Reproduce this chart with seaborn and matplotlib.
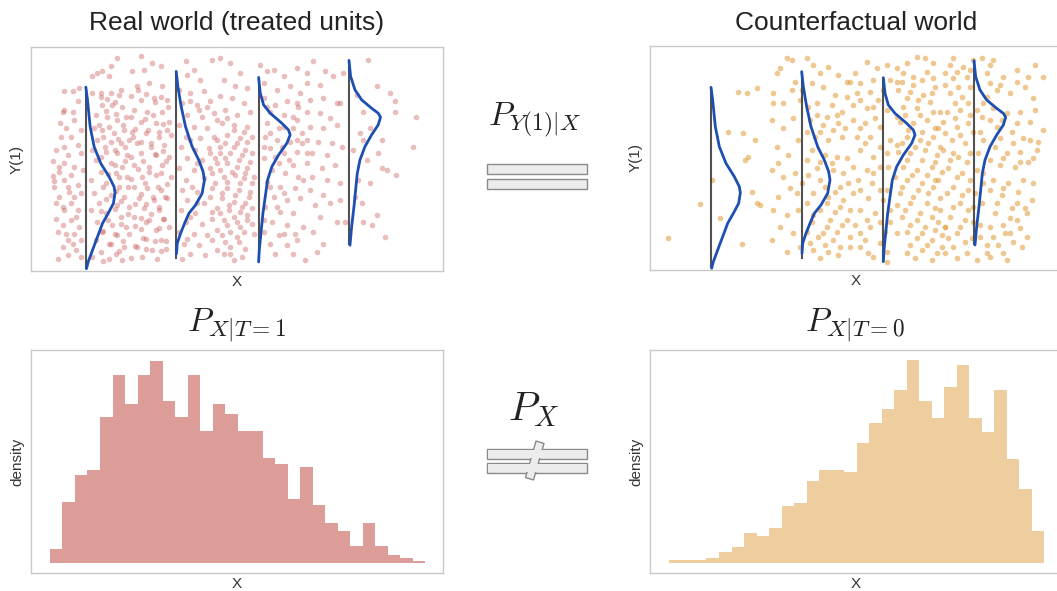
import matplotlib
matplotlib.use("Agg")
import matplotlib.pyplot as plt
import seaborn as sns
from matplotlib.patches import Rectangle, Polygon

sns.set_theme(style="white")
plt.rcParams['font.family'] = ['Liberation Sans', 'DejaVu Sans']
plt.rcParams['mathtext.fontset'] = 'cm'

# ---------------- data (units: arbitrary, axes carry no ticks) ----------------
bin_start = 57.0
bin_width = 37.67
n_bins = 30
hist_treated = [42, 183, 263, 280, 440, 565, 477, 565, 608, 486, 440, 565, 397, 477, 448,
                397, 397, 317, 298, 192, 289, 175, 121, 95, 50, 121, 50, 24, 15, 6]
hist_control = [8, 8, 8, 15, 32, 48, 90, 80, 105, 172, 180, 247, 280, 280, 272,
                362, 420, 462, 520, 610, 487, 437, 528, 595, 437, 395, 520, 313, 222, 97]

curve_dx = [
    [0, 5, 13, 25, 45, 70, 85, 88, 83, 67, 50, 35, 20, 7, 2],
    [0, 5, 15, 28, 48, 68, 81, 85, 78, 58, 38, 25, 13, 3, 1],
    [0, 5, 15, 35, 70, 90, 95, 85, 60, 40, 27, 20, 13, 7, 2, 0],
    [0, 5, 18, 38, 68, 88, 95, 88, 68, 48, 33, 25, 20, 15, 8, 3],
]
curve_y = [
    [142, 180, 260, 320, 370, 410, 440, 458, 490, 520, 550, 590, 630, 665, 685],
    [95, 140, 200, 260, 320, 360, 395, 420, 460, 495, 520, 550, 580, 610, 640],
    [113, 160, 195, 220, 250, 270, 285, 310, 345, 380, 420, 470, 520, 580, 630, 665],
    [62, 110, 150, 180, 205, 220, 232, 255, 285, 320, 360, 400, 450, 500, 560, 615],
]
line_top = [142, 95, 113, 62]
line_bottom = [685, 657, 665, 615]
line_x_treated = [165, 437, 685, 957]
line_x_control = [273, 545, 790, 1062]

treated_pts = [
    (100,155),(125,155),(140,185),(95,215),(125,215),(88,248),(105,265),(130,240),(150,270),(90,290),
    (120,290),(100,320),(140,315),(75,330),(110,345),(150,340),(65,362),(100,368),(130,380),(85,395),
    (120,405),(155,390),(65,408),(100,420),(140,435),(70,440),(115,455),(85,470),(150,460),(75,490),
    (120,490),(100,510),(140,510),(75,535),(120,540),(95,555),(145,560),(80,575),(130,580),(110,600),
    (150,600),(95,620),(135,630),(80,655),(110,645),(150,650),(100,210),(145,145),
    (185,110),(200,100),(215,95),(240,80),(260,55),(235,110),(185,160),(210,160),(240,160),(265,165),
    (215,195),(245,195),(275,200),(195,225),(230,230),(260,240),(285,230),(190,265),(215,270),(250,280),
    (280,270),(200,300),(240,305),(270,310),(295,300),(185,330),(225,335),(260,340),(290,345),(195,360),
    (240,370),(275,380),(210,395),(255,400),(290,410),(180,420),(225,430),(265,440),(190,460),(240,465),
    (280,470),(205,490),(260,495),(295,500),(180,510),(225,520),(270,530),(200,545),(245,555),(285,560),
    (215,575),(260,585),(195,600),(240,610),(280,620),(210,635),(255,640),(185,650),(235,655),(275,660),
    (330,50),(305,95),(340,90),(365,70),(390,80),(320,140),(355,130),(395,140),(330,180),(370,175),
    (410,180),(310,210),(350,215),(395,215),(330,245),(375,250),(415,245),(305,275),(345,280),(385,275),
    (420,285),(320,310),(360,310),(400,315),(330,340),(375,345),(415,350),(310,375),(355,380),(395,375),
    (335,410),(375,405),(420,410),(310,440),(350,445),(390,450),(325,475),(370,480),(410,475),(340,505),
    (385,510),(310,530),(355,540),(400,535),(330,565),(375,570),(415,560),(345,595),(390,600),(320,620),
    (365,630),(405,625),(380,655),(335,650),
    (210,172),(228,178),(252,186),(272,150),(302,170),(322,152),(346,162),(372,188),(392,172),(412,200),
    (226,212),(256,222),(302,232),(342,238),(366,226),(396,252),(206,256),(236,262),(276,256),(312,266),
    (352,270),(386,292),(410,270),(218,292),(262,296),(306,292),(332,306),(362,322),(396,332),(222,322),
    (252,330),(282,322),(302,352),(336,362),(372,342),(406,362),(212,352),(252,376),(282,362),(322,386),
    (356,396),(392,400),(232,402),(266,412),(302,416),(342,430),(382,440),(410,432),(216,442),(256,452),
    (292,442),(332,462),(366,470),(402,470),(226,476),(272,482),(312,492),(346,492),(386,502),(212,512),
    (252,506),(292,522),(332,532),(362,522),(396,536),(232,540),(272,552),(312,556),(346,546),(386,562),
    (216,572),(252,582),(296,582),(336,592),(372,602),(406,602),(236,612),(276,602),(312,616),(346,626),
    (392,632),(216,662),(266,632),(302,652),(85,380),(70,422),(110,442),(130,472),(95,500),(135,530),
    (105,582),(125,612),
    (465,65),(490,90),(470,105),(510,120),(445,150),(480,160),(520,155),(455,190),(500,195),(540,185),
    (470,225),(515,230),(550,220),(445,255),(490,260),(530,265),(465,290),(510,295),(550,290),(450,320),
    (495,330),(535,325),(470,355),(515,360),(555,355),(445,385),(490,390),(540,385),(465,420),(520,415),
    (455,450),(500,455),(545,445),(470,480),(520,490),(450,510),(495,520),(545,515),(465,545),(515,550),
    (445,575),(490,580),(530,585),(460,610),(505,615),(480,640),(525,645),(455,655),
    (545,60),(570,55),(600,70),(630,100),(580,120),(615,140),(650,145),(570,170),(605,175),(640,190),
    (585,210),(620,225),(660,215),(575,250),(610,255),(650,260),(590,285),(630,295),(665,290),(570,320),
    (610,320),(645,330),(585,355),(625,360),(660,365),(570,390),(605,395),(645,400),(590,425),(630,430),
    (665,430),(575,460),(615,465),(655,470),(595,495),(635,500),(570,520),(610,530),(650,525),(590,555),
    (630,560),(665,550),(575,585),(620,590),(600,620),(645,625),(610,660),(580,640),
    (480,185),(505,210),(530,200),(560,240),(590,235),(610,270),(640,275),(560,300),(585,310),(620,310),
    (650,305),(540,340),(570,340),(600,340),(635,345),(665,340),(560,370),(590,370),(620,380),(650,385),
    (545,400),(580,410),(615,405),(640,415),(670,410),(555,430),(590,445),(625,450),(660,455),(540,470),
    (575,475),(610,485),(645,490),(560,505),(595,510),(630,515),(665,505),(545,535),(580,540),(620,545),
    (650,540),(560,570),(600,575),(640,575),(670,580),(545,600),(585,605),(625,605),(560,630),(600,640),
    (635,650),(480,300),(500,370),(485,440),(500,490),(480,530),(470,595),(700,320),(720,280),(735,350),
    (755,320),(775,360),(800,300),(720,440),(760,460),(740,500),(700,540),(760,580),(800,600),(820,560),
    (820,420),(830,340),(710,200),(760,260),(790,230),(800,190),
    (690,75),(710,95),(730,90),(760,110),(700,130),(740,150),(780,140),(810,160),(700,175),(735,195),
    (770,185),(805,200),(720,215),(760,225),(800,240),(710,250),(745,265),(790,265),(815,280),(705,290),
    (740,300),(780,305),(815,310),(720,325),(760,340),(800,335),(700,355),(745,370),(790,375),(725,390),
    (765,400),(805,410),(710,425),(750,440),(795,445),(730,470),(770,480),(810,475),(705,500),(750,515),
    (790,520),(725,545),(770,555),(700,575),(745,585),(795,580),(720,610),(770,615),(735,640),(790,640),
    (825,660),
    (800,85),(830,100),(850,65),(885,95),(830,130),(870,135),(910,110),(840,180),(880,175),(920,190),
    (830,215),(870,220),(900,235),(840,260),(880,265),(920,255),(830,300),(865,305),(905,310),(845,340),
    (890,345),(935,320),(830,370),(875,385),(915,375),(845,410),(890,420),(930,430),(840,450),(880,465),
    (855,495),(900,490),(870,530),(920,545),(850,575),(880,610),(860,635),(945,545),(930,480),
    (1015,62),(940,100),(1040,140),(980,165),(1080,160),(1095,185),(930,190),(1000,215),(1095,215),
    (1160,230),(1020,265),(990,280),(1055,300),(1150,320),(1000,300),(970,330),(1045,340),(1010,360),
    (1070,390),(1100,405),(985,420),(1055,385),(1020,430),(975,470),(1040,525),(1000,545),(1065,590),
    (1025,555),(995,490),
]

control_pts = [
    (145,595),(240,493),(275,420),(300,535),(325,275),(355,155),(370,280),(365,612),(380,160),(375,360),
    (385,350),(410,145),(405,300),(410,490),(420,495),(395,455),
    (460,190),(470,100),(480,85),(500,55),(515,60),(455,240),(490,265),(520,235),(540,180),(470,320),
    (505,345),(535,300),(455,390),(490,410),(525,400),(475,470),(510,445),(545,430),(460,510),(500,525),
    (535,510),(480,560),(520,580),(455,600),(500,635),(540,620),(560,55),(525,125),(545,150),(490,190),
    (515,150),(460,160),(475,370),(530,460),
    (580,75),(600,100),(625,80),(655,105),(575,130),(610,140),(645,165),(680,125),(590,190),(635,195),
    (665,215),(570,240),(610,255),(655,250),(585,290),(625,300),(665,290),(575,330),(615,345),(650,350),
    (590,385),(640,390),(670,400),(600,420),(660,440),(580,460),(625,470),(670,480),(600,510),(645,515),
    (575,545),(620,560),(665,555),(595,590),(640,600),(580,630),(625,635),(660,620),
    (565,200),(590,225),(620,230),(650,225),(680,170),(560,275),(600,275),(640,270),(675,265),(560,360),
    (600,365),(635,370),(680,355),(565,405),(615,440),(645,455),(685,430),(560,490),(620,490),(660,500),
    (690,510),(580,525),(630,540),(680,540),(560,575),(610,580),(650,575),(690,590),(570,610),(615,615),
    (655,645),(600,655),
    (690,125),(720,130),(740,65),(770,85),(800,75),(710,160),(750,155),(810,120),(700,195),(740,205),
    (775,180),(700,240),(735,250),(765,235),(710,290),(750,290),(720,330),(760,350),(800,340),(700,380),
    (740,390),(780,380),(715,420),(755,430),(800,450),(700,460),(745,475),(790,480),(720,510),(765,520),
    (810,510),(705,555),(750,560),(795,575),(735,600),(780,610),(745,640),(800,635),(690,620),(720,580),
    (705,100),(760,120),(790,150),(720,180),(760,200),(800,210),(720,265),(780,260),(810,300),(735,310),
    (780,320),(805,380),(760,400),(720,450),(780,450),(740,540),(780,545),(810,545),(720,620),(760,650),
    (800,665),(830,125),(830,230),(830,315),(825,410),(830,495),(830,580),
    (830,85),(860,70),(890,50),(915,55),(850,100),(880,110),(920,95),(940,70),(835,150),(870,155),
    (910,165),(945,140),(850,200),(890,205),(930,185),(960,215),(840,245),(880,250),(920,240),(955,265),
    (860,290),(900,300),(940,290),(835,335),(870,340),(915,330),(950,345),(850,380),(890,390),(935,380),
    (965,395),(860,420),(905,430),(945,420),(840,460),(880,470),(925,460),(960,475),(855,510),(900,520),
    (945,505),(870,555),(915,560),(955,545),(890,595),(935,600),(965,585),(860,640),(905,630),(950,640),
    (1010,655),(975,560),
    (845,125),(880,135),(905,120),(940,115),(860,175),(895,180),(935,160),(855,225),(900,225),(940,215),
    (865,270),(905,275),(945,265),(845,310),(885,320),(925,310),(960,320),(860,360),(905,360),(945,365),
    (875,405),(920,405),(955,420),(845,440),(895,450),(940,440),(870,490),(920,490),(960,510),(845,530),
    (890,540),(935,530),(860,575),(905,580),(945,570),(870,615),(920,615),(965,620),(885,655),(935,660),
    (990,75),(1000,55),(1030,80),(1060,60),(1085,55),(1110,75),(1000,115),(1040,110),(1100,100),(990,160),
    (1025,170),(1090,190),(1100,170),(980,215),(1020,210),(1085,230),(1010,260),(1045,250),(1080,275),
    (995,300),(1035,310),(1090,300),(1015,350),(1050,340),(985,385),(1025,400),(1070,390),(1000,440),
    (1045,450),(1090,430),(1020,490),(1060,500),(990,530),(1035,540),(1080,555),(1010,580),(1055,595),
    (1000,620),(1070,660),(1100,615),
    (975,100),(1010,95),(1050,90),(975,135),(1015,140),(1050,140),(1005,190),(1045,190),(1070,210),
    (970,245),(1005,235),(1050,225),(975,280),(1020,285),(1060,275),(970,330),(1000,340),(1040,365),
    (1075,340),(990,360),(1010,410),(1050,420),(1090,400),(980,460),(1025,465),(1065,460),(1000,500),
    (1045,510),(1085,490),(975,560),(1020,560),(1060,545),(985,595),(1035,605),(1080,590),(975,640),
    (1040,640),(1100,640),
    (1120,60),(1150,110),(1190,90),(1245,75),(1270,110),(1130,150),(1170,160),(1215,140),(1240,175),
    (1120,205),(1160,220),(1200,215),(1245,210),(1130,260),(1175,275),(1210,295),(1255,305),(1125,320),
    (1160,340),(1200,335),(1250,330),(1140,375),(1185,380),(1225,365),(1120,420),(1165,430),(1210,420),
    (1145,465),(1190,490),(1235,480),(1125,520),(1170,535),(1215,505),(1155,580),(1200,565),(1135,615),
    (1180,605),(1205,620),(1150,640),
    (1110,130),(1140,135),(1190,125),(1225,110),(1110,240),(1145,240),(1190,250),(1230,245),(1270,270),
    (1140,295),(1180,310),(1230,300),(1110,360),(1150,355),(1200,365),(1240,355),(1110,450),(1150,445),
    (1195,455),(1240,430),(1130,490),(1175,505),(1220,520),(1110,560),(1150,555),(1190,540),(1120,590),
    (1170,580),(1110,650),(1160,660),(1220,590),
]

titles = ["Real world (treated units)", "Counterfactual world"]

# ---------------- styling ----------------
RED = "#c4524d"
ORANGE = "#e29a38"
HIST_RED = "#dc9c98"
HIST_ORANGE = "#eecd9e"
BLUE = "#1d4fb3"
SPINE = "#c8c8c8"

W, H = 1057, 591
fig = plt.figure(figsize=(W / 100, H / 100), dpi=100)

def box(px_left, px_top, px_right, px_bottom):
    return [px_left / W, 1 - px_bottom / H, (px_right - px_left) / W, (px_bottom - px_top) / H]

ax_tl = fig.add_axes(box(31, 47, 443, 271))
ax_tr = fig.add_axes(box(650, 46, 1062, 270))
ax_bl = fig.add_axes(box(31, 350, 443, 573))
ax_br = fig.add_axes(box(650, 350, 1062, 573))

def style(ax):
    ax.set_xticks([])
    ax.set_yticks([])
    for s in ax.spines.values():
        s.set_color(SPINE)
        s.set_linewidth(1.0)

for ax, pts, color, alpha, lines_x, xlim, ylim in [
    (ax_tl, treated_pts, RED, 0.38, line_x_treated, (0, 1240), (692, 22)),
    (ax_tr, control_pts, ORANGE, 0.55, line_x_control, (90, 1326), (690, 18)),
]:
    xs = [p[0] for p in pts]
    ys = [p[1] for p in pts]
    sns.scatterplot(x=xs, y=ys, ax=ax, color=color, alpha=alpha, s=16, linewidth=0)
    ax.vlines(lines_x, line_top, line_bottom, color="#333333", linewidth=1.5, alpha=0.85)
    for lx, dx, cy in zip(lines_x, curve_dx, curve_y):
        sns.lineplot(x=[lx + d for d in dx], y=cy, ax=ax, sort=False, estimator=None,
                     color=BLUE, linewidth=2.0)
    ax.set_xlim(*xlim)
    ax.set_ylim(*ylim)
    style(ax)
    ax.set_xlabel("X", fontsize=11, labelpad=3, color="#333333")
    ax.set_ylabel("Y(1)", fontsize=11, labelpad=5, color="#333333")

edges = [bin_start + i * bin_width for i in range(n_bins + 1)]
centers = [bin_start + (i + 0.5) * bin_width for i in range(n_bins)]
for ax, heights, color in [(ax_bl, hist_treated, HIST_RED), (ax_br, hist_control, HIST_ORANGE)]:
    sns.histplot(x=centers, weights=heights, bins=edges, ax=ax, color=color, alpha=1.0,
                 linewidth=0, edgecolor=None)
    ax.set_xlim(0, 1240)
    ax.set_ylim(-30, 640)
    style(ax)
    ax.set_xlabel("X", fontsize=11, labelpad=3, color="#333333")
    ax.set_ylabel("density", fontsize=11, labelpad=5, color="#333333")

# ---------------- overlay for annotations (pixel coordinates) ----------------
ov = fig.add_axes([0, 0, 1, 1], zorder=10)
ov.set_xlim(0, W)
ov.set_ylim(H, 0)
ov.axis("off")
ov.patch.set_alpha(0)

ov.text(237, 23, titles[0], ha="center", va="center", fontsize=19, color="#222222")
ov.text(856, 23, titles[1], ha="center", va="center", fontsize=19, color="#222222")

ov.text(535, 120, r"$P_{Y(1)|X}$", ha="center", va="center", fontsize=24, color="#222222")
ov.text(237, 326, r"$P_{X|T=1}$", ha="center", va="center", fontsize=24, color="#222222")
ov.text(855, 326, r"$P_{X|T=0}$", ha="center", va="center", fontsize=24, color="#222222")
ov.text(534, 410, r"$P_X$", ha="center", va="center", fontsize=29, color="#222222")

FILL = "#ececec"
EDGE = "#8a8a8a"
for y0, y1 in [(164, 174), (179, 189)]:
    ov.add_patch(Rectangle((487, y0), 100, y1 - y0, facecolor=FILL, edgecolor=EDGE, linewidth=1.0))
bars = [(449, 459), (463, 473)]
for y0, y1 in bars:
    ov.add_patch(Rectangle((487, y0), 100, y1 - y0, facecolor=FILL, edgecolor=EDGE, linewidth=1.0))
ov.add_patch(Polygon([(536, 441), (544, 443.5), (533.5, 480), (525.5, 477.5)], closed=True,
                     facecolor=FILL, edgecolor=EDGE, linewidth=1.0))
for y0, y1 in bars:
    ov.add_patch(Rectangle((488, y0 + 0.8), 98, y1 - y0 - 1.6, facecolor=FILL, edgecolor="none"))

fig.savefig("out.png", dpi=100)
